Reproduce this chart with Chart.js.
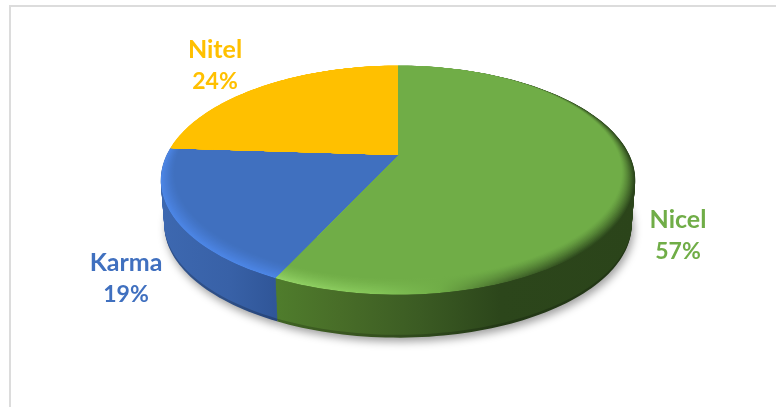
<!DOCTYPE html>
<html>
<head>
<meta charset="utf-8">
<script src="https://cdn.jsdelivr.net/npm/chart.js@4"></script>
<style>
html, body { margin: 0; padding: 0; background: #fff; overflow: hidden; }
canvas { display: block; }
#frame { position: absolute; left: 9px; top: 5px; width: 767px; height: 402px; border-left: 2px solid #dcdcdc; border-top: 2px solid #dcdcdc; box-sizing: border-box; }
</style>
</head>
<body>
<div id="frame"></div>
<canvas id="myChart" width="776" height="407" style="position:absolute;left:0;top:0"></canvas>
<script>
const categories = ['Nicel', 'Karma', 'Nitel'];
const values = [57, 19, 24];
const colors = ['#70AD47', '#4070BF', '#FFC000'];

// look of the 3d disc
const KX = 2.314, KY = 1.09, PERSP = 0.22;
const DEPTH = 45, BOTTOM_SHRINK = 0.985, BEVEL = 0.045, BEVEL_STEPS = 14;

// side wall and rim colours, left to right across the disc
const sideStops = [
	[[278, '#4f7c2c'], [340, '#486d28'], [420, '#3b5b23'], [500, '#2c461b'], [636, '#2b441a']],
	[[161, '#3d68b0'], [230, '#3861a7'], [280, '#2f5597']],
	[[161, '#ffc000'], [636, '#ffc000']]
];
const rimStops = [
	[[278, '#92d265'], [380, '#84c558'], [440, '#70AD47'], [510, '#44692b'], [580, '#2e4a1d'], [636, '#2a431a']],
	[[161, '#4c86e6'], [280, '#4c86e6']],
	[[161, '#ffc000'], [636, '#ffc000']]
];

// where the two line labels sit
const labelPos = { Nicel: [678, 220], Nitel: [215, 50], Karma: [126, 263] };

function hex(c)
{
	return [1, 3, 5].map(i => parseInt(c.substr(i, 2), 16));
}

function mix(a, b, t)
{
	const p = hex(a), q = hex(b);
	return 'rgb(' + p.map((v, i) => Math.round(v + (q[i] - v) * t)).join(',') + ')';
}

function hGradient(ctx, stops, colorOf)
{
	const x0 = stops[0][0], x1 = stops[stops.length - 1][0];
	const g = ctx.createLinearGradient(x0, 0, x1, 0);
	stops.forEach(s => g.addColorStop((s[0] - x0) / (x1 - x0), colorOf(s[1])));
	return g;
}

// unit disc -> screen, with perspective
function project(arc, u, v, dz, shrink)
{
	const r = arc.outerRadius;
	const w = 1 - PERSP * v;
	return [
		arc.x + shrink * r * KX * u / w,
		arc.y + dz + shrink * r * KY * v / w
	];
}

function wedgePath(ctx, arc, dz, shrink)
{
	ctx.beginPath();
	let p = project(arc, 0, 0, dz, shrink);
	ctx.moveTo(p[0], p[1]);
	const n = Math.ceil((arc.endAngle - arc.startAngle) * 40);
	for (let i = 0; i <= n; i++) {
		const a = arc.startAngle + (arc.endAngle - arc.startAngle) * i / n;
		p = project(arc, Math.cos(a), Math.sin(a), dz, shrink);
		ctx.lineTo(p[0], p[1]);
	}
	ctx.closePath();
}

// whole disc scaled toward its far edge, so the bevel only shows at the front
function discPath(ctx, arc, s)
{
	ctx.beginPath();
	for (let i = 0; i < 240; i++) {
		const a = i / 240 * Math.PI * 2;
		const p = project(arc, Math.cos(a) * s, -1 + (Math.sin(a) + 1) * s, 0, 1);
		if (i == 0) ctx.moveTo(p[0], p[1]);
		else ctx.lineTo(p[0], p[1]);
	}
	ctx.closePath();
}

const pie3d = {
	id: 'pie3d',
	beforeDatasetsDraw(chart) {
		const ctx = chart.ctx;
		const arcs = chart.getDatasetMeta(0).data;

		// soft shadow under the disc
		ctx.save();
		ctx.shadowColor = 'rgba(0,0,0,0.38)';
		ctx.shadowBlur = 9;
		ctx.shadowOffsetX = 2;
		ctx.shadowOffsetY = 5;
		ctx.fillStyle = '#fff';
		arcs.forEach(arc => {
			wedgePath(ctx, arc, DEPTH - 1, BOTTOM_SHRINK);
			ctx.fill();
		});
		ctx.restore();

		// side wall, bottom to top
		for (let z = DEPTH; z >= 0; z--) {
			const t = z / DEPTH;
			arcs.forEach((arc, i) => {
				const dark = z > DEPTH - 3 ? 0.2 : 0;
				ctx.fillStyle = hGradient(ctx, sideStops[i], c => mix(c, '#000000', dark));
				wedgePath(ctx, arc, z, 1 - (1 - BOTTOM_SHRINK) * t);
				ctx.fill();
			});
		}

		// top face with bevel
		arcs.forEach((arc, i) => {
			const base = arc.options.backgroundColor;
			ctx.save();
			wedgePath(ctx, arc, 0, 1);
			ctx.clip();
			for (let b = 0; b <= BEVEL_STEPS; b++) {
				const f = b / BEVEL_STEPS;
				const weight = Math.pow(1 - f, 1.3);
				ctx.fillStyle = hGradient(ctx, rimStops[i], c => mix(base, c, weight));
				discPath(ctx, arc, 1 - BEVEL * f);
				ctx.fill();
			}
			ctx.restore();
		});

		// labels
		ctx.textAlign = 'center';
		ctx.textBaseline = 'middle';
		categories.forEach((name, i) => {
			const pos = labelPos[name];
			ctx.fillStyle = colors[i];
			ctx.font = 'bold 25px Lato, Carlito, sans-serif';
			ctx.fillText(name, pos[0], pos[1]);
			ctx.font = 'bold 23px Lato, Carlito, sans-serif';
			ctx.fillText(values[i] + '%', pos[0], pos[1] + 32);
		});

		return false;
	}
};

new Chart(document.getElementById('myChart').getContext('2d'), {
	type: 'pie',
	data: {
		labels: categories,
		datasets: [{ data: values, backgroundColor: colors, borderWidth: 0 }]
	},
	options: {
		responsive: false,
		animation: false,
		layout: { padding: { left: 198, right: 178, top: 55, bottom: 152 } },
		plugins: { legend: { display: false }, tooltip: { enabled: false } }
	},
	plugins: [pie3d]
});
</script>
</body>
</html>
